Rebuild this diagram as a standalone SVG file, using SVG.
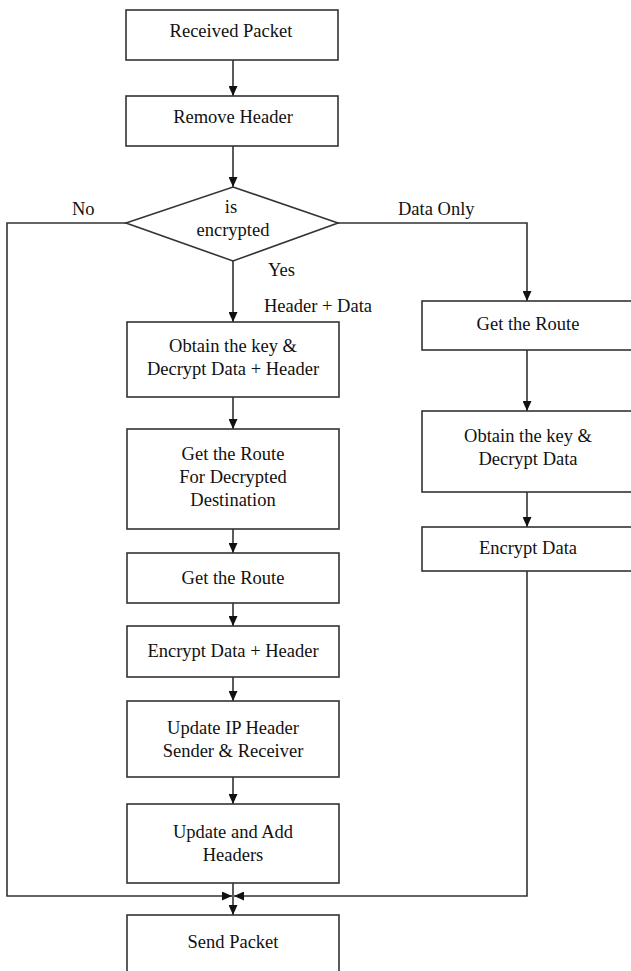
<svg xmlns="http://www.w3.org/2000/svg" width="631" height="971" viewBox="0 0 631 971">
  <style>
    .box { fill: #ffffff; stroke: #333333; stroke-width: 1.6; }
    .lbl { font-family: "Liberation Serif", "Times New Roman", serif; font-size: 18.5px; fill: #111111; text-anchor: middle; }
    .note { font-family: "Liberation Serif", "Times New Roman", serif; font-size: 18.5px; fill: #111111; }
    .wire { fill: none; stroke: #333333; stroke-width: 1.6; }
  </style>
  <defs>
    <marker id="arrow" markerUnits="userSpaceOnUse" markerWidth="10" markerHeight="9" refX="10" refY="4.5" orient="auto">
      <path d="M0,0 L10,4.5 L0,9 z" fill="#111111"/>
    </marker>
  </defs>
  <rect width="631" height="971" fill="#ffffff"/>

  <!-- connectors -->
  <g id="connectors">
    <line class="wire" x1="233" y1="60" x2="233" y2="96" marker-end="url(#arrow)"/>
    <line class="wire" x1="233" y1="146" x2="233" y2="187" marker-end="url(#arrow)"/>
    <!-- Yes branch -->
    <line class="wire" x1="233" y1="261" x2="233" y2="322" marker-end="url(#arrow)"/>
    <!-- Data Only branch -->
    <polyline class="wire" points="338,223 527,223 527,301" marker-end="url(#arrow)"/>
    <!-- No branch -->
    <polyline class="wire" points="126,223 7,223 7,896 232,896" marker-end="url(#arrow)"/>
    <!-- left column -->
    <line class="wire" x1="233" y1="397" x2="233" y2="429" marker-end="url(#arrow)"/>
    <line class="wire" x1="233" y1="529" x2="233" y2="553" marker-end="url(#arrow)"/>
    <line class="wire" x1="233" y1="603" x2="233" y2="626" marker-end="url(#arrow)"/>
    <line class="wire" x1="233" y1="677" x2="233" y2="701" marker-end="url(#arrow)"/>
    <line class="wire" x1="233" y1="777" x2="233" y2="804" marker-end="url(#arrow)"/>
    <line class="wire" x1="233" y1="883" x2="233" y2="915" marker-end="url(#arrow)"/>
    <!-- right column -->
    <line class="wire" x1="527" y1="350" x2="527" y2="411" marker-end="url(#arrow)"/>
    <line class="wire" x1="527" y1="492" x2="527" y2="527" marker-end="url(#arrow)"/>
    <polyline class="wire" points="527,571 527,896 234,896" marker-end="url(#arrow)"/>
  </g>

  <!-- branch labels -->
  <g id="labels">
    <text class="note" x="72" y="215">No</text>
    <text class="note" x="398" y="215">Data Only</text>
    <text class="note" x="268" y="276">Yes</text>
    <text class="note" x="264" y="312">Header + Data</text>
  </g>

  <g id="received-packet">
    <rect class="box" x="126" y="10" width="212" height="50"/>
    <text class="lbl" x="231" y="37">Received Packet</text>
  </g>

  <g id="remove-header">
    <rect class="box" x="126" y="96" width="212" height="50"/>
    <text class="lbl" x="233" y="123">Remove Header</text>
  </g>

  <g id="is-encrypted">
    <polygon class="box" points="233,187 338,223 233,261 126,223"/>
    <text class="lbl" x="231" y="213">is</text>
    <text class="lbl" x="233" y="236">encrypted</text>
  </g>

  <g id="decrypt-all">
    <rect class="box" x="127" y="322" width="212" height="75"/>
    <text class="lbl" x="233" y="352">Obtain the key &amp;</text>
    <text class="lbl" x="233" y="375">Decrypt Data + Header</text>
  </g>

  <g id="route-decrypted">
    <rect class="box" x="127" y="429" width="212" height="100"/>
    <text class="lbl" x="233" y="460">Get the Route</text>
    <text class="lbl" x="233" y="483">For Decrypted</text>
    <text class="lbl" x="233" y="506">Destination</text>
  </g>

  <g id="route-left">
    <rect class="box" x="127" y="553" width="212" height="50"/>
    <text class="lbl" x="233" y="584">Get the Route</text>
  </g>

  <g id="encrypt-all">
    <rect class="box" x="127" y="626" width="212" height="51"/>
    <text class="lbl" x="233" y="657">Encrypt Data + Header</text>
  </g>

  <g id="update-ip">
    <rect class="box" x="127" y="701" width="212" height="76"/>
    <text class="lbl" x="233" y="734">Update IP Header</text>
    <text class="lbl" x="233" y="757">Sender &amp; Receiver</text>
  </g>

  <g id="update-headers">
    <rect class="box" x="127" y="804" width="212" height="79"/>
    <text class="lbl" x="233" y="838">Update and Add</text>
    <text class="lbl" x="233" y="861">Headers</text>
  </g>

  <g id="send-packet">
    <rect class="box" x="127" y="915" width="212" height="70"/>
    <text class="lbl" x="233" y="948">Send Packet</text>
  </g>

  <g id="route-right">
    <rect class="box" x="422" y="301" width="211" height="49"/>
    <text class="lbl" x="528" y="330">Get the Route</text>
  </g>

  <g id="decrypt-data">
    <rect class="box" x="422" y="411" width="211" height="81"/>
    <text class="lbl" x="528" y="442">Obtain the key &amp;</text>
    <text class="lbl" x="528" y="465">Decrypt Data</text>
  </g>

  <g id="encrypt-data">
    <rect class="box" x="422" y="527" width="211" height="44"/>
    <text class="lbl" x="528" y="554">Encrypt Data</text>
  </g>
</svg>
